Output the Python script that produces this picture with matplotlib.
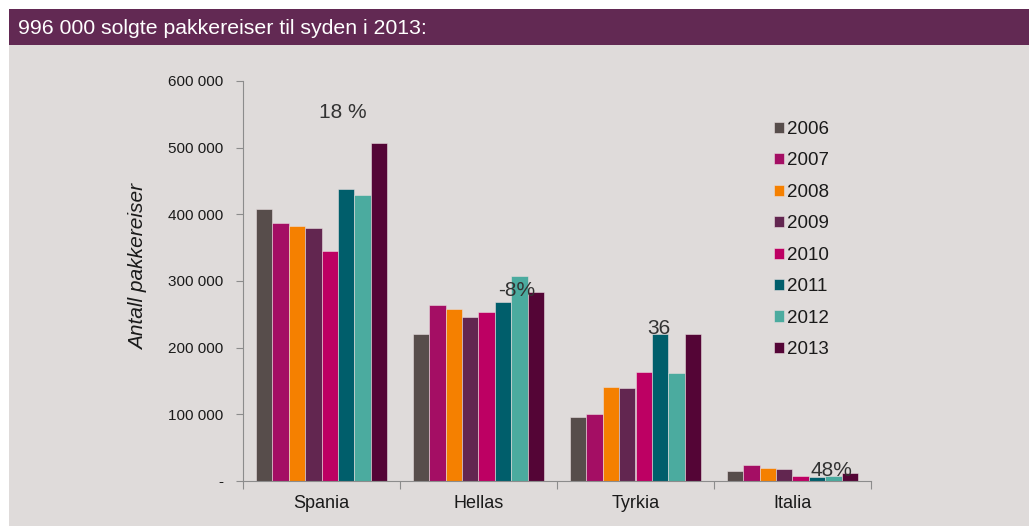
import matplotlib
matplotlib.use("Agg")
import matplotlib.pyplot as plt
from matplotlib.patches import Rectangle
from matplotlib.ticker import FuncFormatter, FixedLocator
import numpy as np

plt.rcParams['font.family'] = ['Liberation Sans', 'DejaVu Sans']

# Destinations and yearly package-holiday sales
categories = ["Spania", "Hellas", "Tyrkia", "Italia"]
years = ["2006", "2007", "2008", "2009", "2010", "2011", "2012", "2013"]
values = {
    "2006": [408000, 221000, 95500, 14500],
    "2007": [386500, 264000, 100000, 23500],
    "2008": [383000, 258500, 140500, 19000],
    "2009": [379000, 245500, 139000, 17500],
    "2010": [344500, 253000, 163000, 8000],
    "2011": [438500, 268500, 220000, 6000],
    "2012": [429000, 307000, 162500, 7800],
    "2013": [507500, 283500, 221000, 11500],
}
colors = ["#574d4b", "#a40e64", "#f58000", "#622650",
          "#bd0063", "#005e6b", "#4bab9f", "#540536"]

# Change labels 2012 -> 2013 per destination
change_labels = ["18 %", "-8%", "36", "48%"]
change_x_offset = [0.137, 0.245, 0.15, 0.245]
change_y = [552000, 286500, 228000, 16500]

title = "996 000 solgte pakkereiser til syden i 2013:"
ylabel = "Antall pakkereiser"

W, H = 1029, 526
fig = plt.figure(figsize=(W / 100, H / 100), dpi=100)
fig.patch.set_facecolor("white")

bg = "#dfdbda"
fig.patches.append(Rectangle((9 / W, 0), 1 - 9 / W, (H - 45) / H,
                             transform=fig.transFigure, facecolor=bg,
                             edgecolor="none", zorder=-2))
fig.patches.append(Rectangle((9 / W, (H - 45) / H), 1 - 9 / W, 36 / H,
                             transform=fig.transFigure, facecolor="#622953",
                             edgecolor="none", zorder=-2))
fig.text(18 / W, (H - 28) / H, title, color="white", fontsize=15.3,
         ha="left", va="center")

ax = fig.add_axes([243 / W, (H - 481) / H, (871 - 243) / W, 400 / H])
ax.set_facecolor("none")
ax.set_zorder(1)

n = len(years)
bw = 1.0 / (n + 1.6)
x = np.arange(len(categories))
for i, yr in enumerate(years):
    ax.bar(x + (i - (n - 1) / 2) * bw, values[yr], width=bw, color=colors[i],
           edgecolor="#e8dede", linewidth=0.4, label=yr, zorder=2)

for j, lab in enumerate(change_labels):
    ax.text(x[j] + change_x_offset[j], change_y[j], lab, fontsize=15,
            color="#333333", ha="center", va="center", zorder=3)

ax.set_xlim(-0.5, len(categories) - 0.5)
ax.set_ylim(0, 600000)
ax.set_yticks(np.arange(0, 600001, 100000))
ax.yaxis.set_major_formatter(FuncFormatter(
    lambda v, p: "-" if v == 0 else f"{int(v):,}".replace(",", " ")))
ax.tick_params(axis="y", length=5, width=0.8, color="#8c8c8c",
               labelsize=11, labelcolor="#1a1a1a", pad=9)

ax.set_xticks(x)
ax.set_xticklabels(categories)
ax.xaxis.set_minor_locator(FixedLocator(np.arange(-0.5, len(categories), 1.0)))
ax.tick_params(axis="x", which="major", length=0, labelsize=13,
               labelcolor="#1a1a1a", pad=10)
ax.tick_params(axis="x", which="minor", length=6, width=0.8,
               color="#8c8c8c", direction="out")

for s in ("top", "right"):
    ax.spines[s].set_visible(False)
for s in ("left", "bottom"):
    ax.spines[s].set_color("#8c8c8c")
    ax.spines[s].set_linewidth(0.8)

fig.text(139 / W, (H - 267) / H, ylabel, fontsize=15, style="italic",
         color="#1a1a1a", rotation=90, ha="center", va="center")

leg = ax.legend(loc="upper left", bbox_to_anchor=(774 / W, (H - 121) / H),
                bbox_transform=fig.transFigure, frameon=False, fontsize=13.5,
                handlelength=0.53, handleheight=0.53, handletextpad=0.18,
                labelspacing=0.77, borderaxespad=0, borderpad=0)
for t in leg.get_texts():
    t.set_color("#1a1a1a")

fig.savefig("out.png", dpi=100, facecolor=fig.get_facecolor())
